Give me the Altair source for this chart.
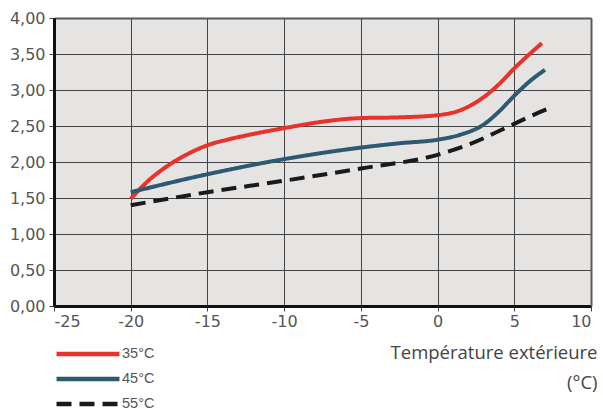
import altair as alt
import pandas as pd

# Data
x_35 = [-20, -18.8, -17.5, -16.2, -14.9, -13.7, -12, -10, -7.5, -5, -2.5, 0, 1.5, 3, 4, 5, 6, 6.8]
y_35 = [1.49, 1.75, 1.96, 2.12, 2.24, 2.31, 2.39, 2.47, 2.56, 2.61, 2.62, 2.65, 2.72, 2.90, 3.08, 3.30, 3.50, 3.65]

x_45 = [-20, -15, -10, -5, -2.5, 0, 1.5, 3, 4, 5, 6, 7]
y_45 = [1.58, 1.83, 2.04, 2.20, 2.26, 2.31, 2.38, 2.52, 2.70, 2.92, 3.12, 3.28]

x_55 = [-20, -15, -10, -5, 0, 2, 3, 4, 5, 6, 7.2]
y_55 = [1.40, 1.58, 1.74, 1.91, 2.10, 2.24, 2.33, 2.43, 2.53, 2.63, 2.74]

series = ["35°C", "45°C", "55°C"]
colors = ["#e8322a", "#2d5a72", "#1a1a1a"]
x_ticks = [-25, -20, -15, -10, -5, 0, 5, 10]
y_ticks = [0, 0.5, 1, 1.5, 2, 2.5, 3, 3.5, 4]

rows = []
for name, xs, ys in zip(series, [x_35, x_45, x_55], [y_35, y_45, y_55]):
    for i, (a, b) in enumerate(zip(xs, ys)):
        rows.append({"serie": name, "t": a, "v": b, "o": i})
df = pd.DataFrame(rows)

label_font = "DejaVu Sans"
legend_font = "Liberation Sans"
title_font = "Open Sans"

legend = alt.Legend(title=None, orient="none", legendX=0, legendY=327,
                    symbolType="stroke", symbolSize=3969, clipHeight=18,
                    symbolStrokeWidth=4.5, labelFontSize=14.5,
                    labelColor="#555", labelFont=legend_font, labelOffset=0,
                    padding=0, rowPadding=7)

xscale = alt.Scale(domain=[-25, 10], nice=False)
yscale = alt.Scale(domain=[0, 4], nice=False)

lines = alt.Chart(df).mark_line(interpolate="monotone", strokeWidth=4, strokeCap="butt").encode(
    x=alt.X("t:Q", scale=xscale,
            axis=alt.Axis(values=x_ticks, labelExpr="datum.value + ''",
                          labelFont=label_font, labelFontSize=16, labelColor="#555",
                          title=["Température extérieure", "(°C)"],
                          titleAnchor="end", titleAlign="right", titleBaseline="top",
                          titleX=543, titleY=37, titleLineHeight=30,
                          titleFontSize=18.5, titleFontWeight="normal", titleColor="#444",
                          titleFont=title_font, labelPadding=2,
                          domainColor="#111", domainWidth=3)),
    y=alt.Y("v:Q", scale=yscale,
            axis=alt.Axis(values=y_ticks,
                          labelExpr="replace(format(datum.value, '.2f'), '.', ',')",
                          labelFont=label_font, labelFontSize=16, labelColor="#555",
                          title=None, labelPadding=4,
                          domainColor="#111", domainWidth=3)),
    color=alt.Color("serie:N", scale=alt.Scale(domain=series, range=colors), legend=legend),
    strokeDash=alt.StrokeDash("serie:N",
                              scale=alt.Scale(domain=series, range=[[1, 0], [1, 0], [15, 8]]),
                              legend=legend),
    order="o:Q",
)

frame = alt.Chart(df).mark_line(opacity=0).encode(
    x=alt.X("t:Q", scale=xscale,
            axis=alt.Axis(orient="top", labels=False, ticks=False, grid=False, title=None,
                          domainColor="#5a5a5a", domainWidth=2)),
    y=alt.Y("v:Q", scale=yscale,
            axis=alt.Axis(orient="right", labels=False, ticks=False, grid=False, title=None,
                          domainColor="#5a5a5a", domainWidth=2)),
    detail="serie:N",
)

chart = alt.layer(lines, frame).resolve_axis(x="independent", y="independent").properties(
    width=537, height=288,
    autosize=alt.AutoSizeParams(type="none"),
    padding={"left": 54, "top": 18, "right": 12, "bottom": 106},
    background="white",
).configure_view(
    fill="#e6e4e2", stroke="transparent", strokeWidth=0
).configure_axis(
    grid=True, gridColor="#444", gridWidth=1, gridOpacity=1,
    tickColor="#444", tickSize=5, tickWidth=1,
)

chart.save("out.html", embed_options={"renderer": "svg", "actions": False})
